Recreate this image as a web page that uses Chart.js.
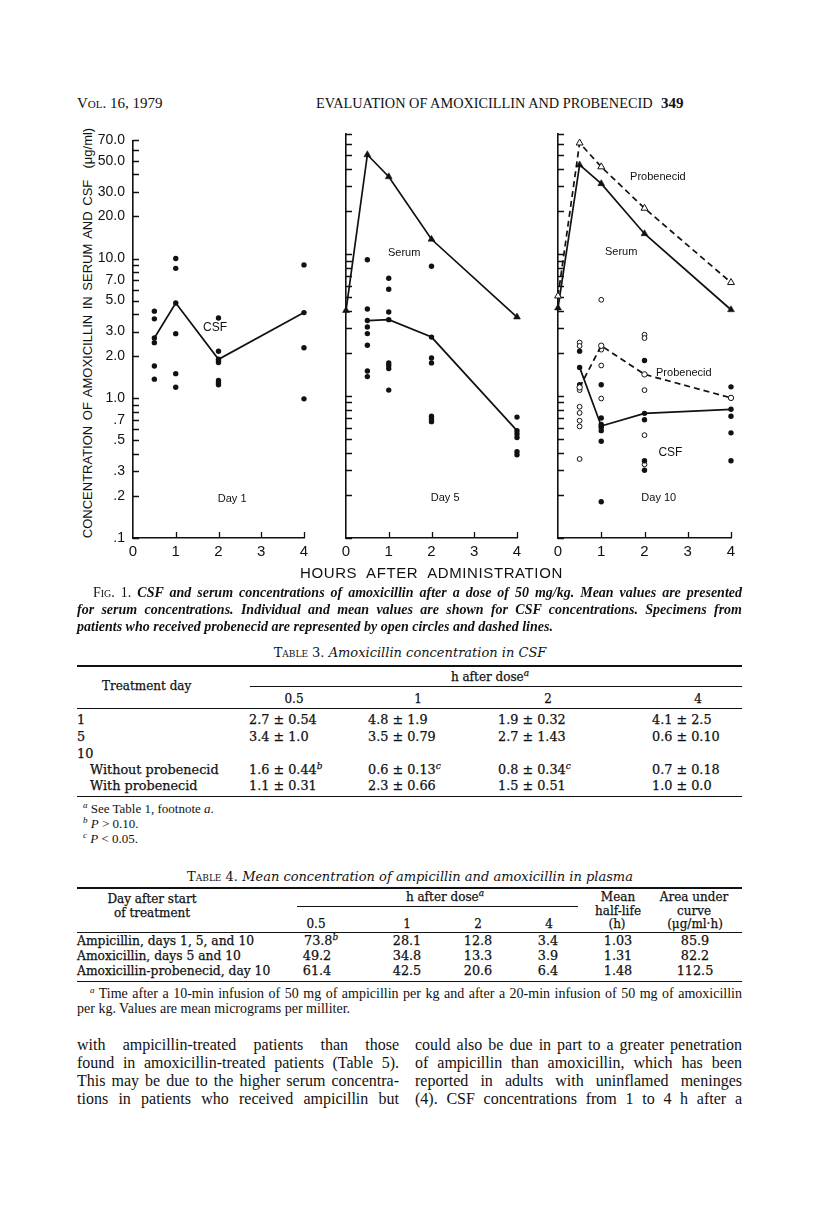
<!DOCTYPE html>
<html>
<head>
<meta charset="utf-8">
<script src="https://cdn.jsdelivr.net/npm/chart.js@4.4.1/dist/chart.umd.min.js"></script>
<style>
  html, body { margin: 0; padding: 0; background: #fff; }
  body { width: 816px; height: 1220px; position: relative; overflow: hidden; color: #111; font-family: "Liberation Serif", serif; }
  .t { position: absolute; white-space: nowrap; line-height: 16px; }
  .c { transform: translateX(-50%); }
  .sc { font-variant: small-caps; }
  .sup { font-size: 9px; position: relative; top: -5px; font-style: italic; }
  .rule { position: absolute; left: 77px; width: 665px; height: 1px; background: #111; }
  .tbl { font-family: "DejaVu Serif", serif; font-size: 12.8px; -webkit-text-stroke: 0.25px #111; }
  .hd { font-size: 12px; }
  .note { font-family: "Liberation Serif", serif; font-size: 12.5px; -webkit-text-stroke: 0; }
  .ttl { font-family: "DejaVu Serif", serif; font-size: 13px; }
  .line { position: absolute; text-align: justify; text-align-last: justify; line-height: 18px; }
  canvas { position: absolute; }
  .sans { font-family: "Liberation Sans", Arial, sans-serif; }
</style>
</head>
<body>

<!-- running head -->
<div class="t sc" style="left:77px; top:95px; font-size:15px;">Vol. 16, 1979</div>
<div class="t" style="left:316px; top:95px; font-size:14.3px;">EVALUATION OF AMOXICILLIN AND PROBENECID</div>
<div class="t" style="left:661px; top:95px; font-size:15px; font-weight:bold;">349</div>

<!-- figure -->
<div class="t sans" style="left:-119px; top:325px; width:414px; text-align:center; font-size:13px; word-spacing:2px; transform:rotate(-90deg);">CONCENTRATION OF AMOXICILLIN IN SERUM AND CSF&nbsp; (μg/ml)</div>
<canvas id="day1" width="220" height="444" style="left:95px; top:124px;"></canvas>
<canvas id="day5" width="200" height="444" style="left:330px; top:124px;"></canvas>
<canvas id="day10" width="205" height="444" style="left:542px; top:124px;"></canvas>
<div class="t sans" style="left:300px; top:565px; font-size:15px; letter-spacing:0.6px; word-spacing:5px;">HOURS AFTER ADMINISTRATION</div>

<!-- caption -->
<div style="position:absolute; left:77px; top:584px; width:665px; font-size:14px; font-weight:bold; font-style:italic;">
  <div class="line" style="top:0; left:16px; width:649px;"><span class="sc" style="font-style:normal; font-weight:normal;">Fig. 1.</span> CSF and serum concentrations of amoxicillin after a dose of 50 mg/kg. Mean values are presented</div>
  <div class="line" style="top:17px; left:0; width:665px;">for serum concentrations. Individual and mean values are shown for CSF concentrations. Specimens from</div>
  <div class="line" style="top:34px; left:0; width:665px; text-align:left; text-align-last:left;">patients who received probenecid are represented by open circles and dashed lines.</div>
</div>

<!-- table 3 -->
<div class="t c ttl" style="left:410px; top:645px;"><span class="sc">Table 3.</span> <i>Amoxicillin concentration in CSF</i></div>
<div class="rule" style="top:665px; height:1.6px;"></div>
<div class="tbl">
  <div class="t c hd" style="left:490px; top:669px;">h after dose<span class="sup">a</span></div>
  <div class="rule" style="top:686px; left:250px; width:492px;"></div>
  <div class="t hd" style="left:102px; top:678px;">Treatment day</div>
  <div class="t c hd" style="left:294px; top:691px;">0.5</div>
  <div class="t c hd" style="left:418px; top:691px;">1</div>
  <div class="t c hd" style="left:548px; top:691px;">2</div>
  <div class="t c hd" style="left:698px; top:691px;">4</div>
  <div class="rule" style="top:708px;"></div>

  <div class="t" style="left:77px; top:712px;">1</div>
  <div class="t" style="left:249px; top:712px;">2.7 ± 0.54</div>
  <div class="t" style="left:368px; top:712px;">4.8 ± 1.9</div>
  <div class="t" style="left:498px; top:712px;">1.9 ± 0.32</div>
  <div class="t" style="left:652px; top:712px;">4.1 ± 2.5</div>

  <div class="t" style="left:77px; top:729px;">5</div>
  <div class="t" style="left:249px; top:729px;">3.4 ± 1.0</div>
  <div class="t" style="left:368px; top:729px;">3.5 ± 0.79</div>
  <div class="t" style="left:498px; top:729px;">2.7 ± 1.43</div>
  <div class="t" style="left:652px; top:729px;">0.6 ± 0.10</div>

  <div class="t" style="left:77px; top:746px;">10</div>

  <div class="t" style="left:90px; top:762px;">Without probenecid</div>
  <div class="t" style="left:249px; top:762px;">1.6 ± 0.44<span class="sup">b</span></div>
  <div class="t" style="left:368px; top:762px;">0.6 ± 0.13<span class="sup">c</span></div>
  <div class="t" style="left:498px; top:762px;">0.8 ± 0.34<span class="sup">c</span></div>
  <div class="t" style="left:652px; top:762px;">0.7 ± 0.18</div>

  <div class="t" style="left:90px; top:778px;">With probenecid</div>
  <div class="t" style="left:249px; top:778px;">1.1 ± 0.31</div>
  <div class="t" style="left:368px; top:778px;">2.3 ± 0.66</div>
  <div class="t" style="left:498px; top:778px;">1.5 ± 0.51</div>
  <div class="t" style="left:652px; top:778px;">1.0 ± 0.0</div>
  <div class="rule" style="top:796px; height:1.4px;"></div>

  <div class="t note" style="left:83px; top:801px; font-size:13px;"><span class="sup">a</span> See Table 1, footnote <i>a</i>.</div>
  <div class="t note" style="left:83px; top:816px; font-size:13px;"><span class="sup">b</span> <i>P</i> &gt; 0.10.</div>
  <div class="t note" style="left:83px; top:831px; font-size:13px;"><span class="sup">c</span> <i>P</i> &lt; 0.05.</div>
</div>

<!-- table 4 -->
<div class="t c ttl" style="left:410px; top:869px;"><span class="sc">Table 4.</span> <i>Mean concentration of ampicillin and amoxicillin in plasma</i></div>
<div class="rule" style="top:887px; height:1.6px;"></div>
<div class="tbl">
  <div class="t c hd" style="left:152px; top:891px;">Day after start</div>
  <div class="t c hd" style="left:152px; top:905px;">of treatment</div>
  <div class="t c hd" style="left:445px; top:889px;">h after dose<span class="sup">a</span></div>
  <div class="rule" style="top:906px; left:297px; width:281px;"></div>
  <div class="t c hd" style="left:618px; top:889px;">Mean</div>
  <div class="t c hd" style="left:618px; top:903px;">half-life</div>
  <div class="t c hd" style="left:617px; top:916px;">(h)</div>
  <div class="t c hd" style="left:694px; top:889px;">Area under</div>
  <div class="t c hd" style="left:694px; top:903px;">curve</div>
  <div class="t c hd" style="left:695px; top:916px;">(μg/ml·h)</div>
  <div class="t c hd" style="left:316px; top:916px;">0.5</div>
  <div class="t c hd" style="left:407px; top:916px;">1</div>
  <div class="t c hd" style="left:478px; top:916px;">2</div>
  <div class="t c hd" style="left:549px; top:916px;">4</div>
  <div class="rule" style="top:932px;"></div>

  <div class="t" style="left:77px; top:933px; font-size:12.3px;">Ampicillin, days 1, 5, and 10</div>
  <div class="t" style="left:304px; top:933px;">73.8<span class="sup">b</span></div>
  <div class="t c" style="left:407px; top:933px;">28.1</div>
  <div class="t c" style="left:478px; top:933px;">12.8</div>
  <div class="t c" style="left:548px; top:933px;">3.4</div>
  <div class="t c" style="left:618px; top:933px;">1.03</div>
  <div class="t c" style="left:695px; top:933px;">85.9</div>

  <div class="t" style="left:77px; top:948px; font-size:12.3px;">Amoxicillin, days 5 and 10</div>
  <div class="t c" style="left:317px; top:948px;">49.2</div>
  <div class="t c" style="left:407px; top:948px;">34.8</div>
  <div class="t c" style="left:478px; top:948px;">13.3</div>
  <div class="t c" style="left:548px; top:948px;">3.9</div>
  <div class="t c" style="left:618px; top:948px;">1.31</div>
  <div class="t c" style="left:695px; top:948px;">82.2</div>

  <div class="t" style="left:77px; top:963px; font-size:12.3px;">Amoxicillin-probenecid, day 10</div>
  <div class="t c" style="left:317px; top:963px;">61.4</div>
  <div class="t c" style="left:407px; top:963px;">42.5</div>
  <div class="t c" style="left:478px; top:963px;">20.6</div>
  <div class="t c" style="left:548px; top:963px;">6.4</div>
  <div class="t c" style="left:618px; top:963px;">1.48</div>
  <div class="t c" style="left:695px; top:963px;">112.5</div>
  <div class="rule" style="top:981px; height:1.4px;"></div>

  <div class="line note" style="left:90px; top:985px; width:652px; font-size:14px;"><span class="sup">a</span> Time after a 10-min infusion of 50 mg of ampicillin per kg and after a 20-min infusion of 50 mg of amoxicillin</div>
  <div class="line note" style="left:77px; top:1000px; width:665px; font-size:14px; text-align:left; text-align-last:left;">per kg. Values are mean micrograms per milliter.</div>
</div>

<!-- body text -->
<div style="font-size:16px;">
  <div class="line" style="left:77px; top:1036px; width:322px;">with ampicillin-treated patients than those</div>
  <div class="line" style="left:77px; top:1054px; width:322px;">found in amoxicillin-treated patients (Table 5).</div>
  <div class="line" style="left:77px; top:1072px; width:322px;">This may be due to the higher serum concentra-</div>
  <div class="line" style="left:77px; top:1090px; width:322px;">tions in patients who received ampicillin but</div>
  <div class="line" style="left:415px; top:1036px; width:327px;">could also be due in part to a greater penetration</div>
  <div class="line" style="left:415px; top:1054px; width:327px;">of ampicillin than amoxicillin, which has been</div>
  <div class="line" style="left:415px; top:1072px; width:327px;">reported in adults with uninflamed meninges</div>
  <div class="line" style="left:415px; top:1090px; width:327px;">(4). CSF concentrations from 1 to 4 h after a</div>
</div>

<script>
// hours after administration
const serumHours = [0, 0.5, 1, 2, 4];
const meanHours = [0.5, 1, 2, 4];

// axis ticks
const xTickValues = [0, 1, 2, 3, 4];
const yTickValues = [0.1, 0.2, 0.3, 0.4, 0.5, 0.6, 0.7, 0.8, 0.9,
    1, 2, 3, 4, 5, 6, 7, 8, 9, 10, 20, 30, 40, 50, 60, 70];
const yLabelValues = [70, 50, 30, 20, 10, 7, 5, 3, 2, 1, 0.7, 0.5, 0.3, 0.2, 0.1];
const yLabelTexts = ['70.0', '50.0', '30.0', '20.0', '10.0', '7.0', '5.0', '3.0', '2.0', '1.0', '.7', '.5', '.3', '.2', '.1'];

// day 1: CSF (µg/ml)
const day1CsfMean = [2.7, 4.8, 1.9, 4.1];
const day1CsfPatients = [
    [0.5, 4.2], [0.5, 3.7], [0.5, 2.5], [0.5, 1.7], [0.5, 1.37],
    [1, 10.0], [1, 8.5], [1, 2.9], [1, 1.5], [1, 1.2],
    [2, 3.75], [2, 2.17], [2, 1.85], [2, 1.8], [2, 1.34], [2, 1.29], [2, 1.25],
    [4, 9.0], [4, 2.3], [4, 0.99],
];

// day 5
const day5Serum = [4.0, 50, 35, 12.7, 3.6];
const day5CsfMean = [3.4, 3.45, 2.6, 0.57];
const day5CsfPatients = [
    [0.5, 9.1], [0.5, 4.1], [0.5, 3.06], [0.5, 2.75], [0.5, 2.28], [0.5, 1.5], [0.5, 1.37],
    [1, 6.75], [1, 5.65], [1, 3.9], [1, 1.71], [1, 1.64], [1, 1.56], [1, 1.1],
    [2, 8.2], [2, 1.85], [2, 1.71], [2, 0.72], [2, 0.69], [2, 0.66],
    [4, 0.71], [4, 0.54], [4, 0.51], [4, 0.405], [4, 0.385],
];

// day 10, without and with probenecid
const day10Serum = [4.17, 42.4, 31.3, 13.9, 4.05];
const day10SerumProbenecid = [5.06, 60.5, 41.1, 21.0, 6.3];
const day10CsfMean = [1.59, 0.615, 0.755, 0.806];
const day10CsfMeanProbenecid = [1.15, 2.26, 1.42, 0.97];
const day10CsfPatients = [
    [0.5, 2.07], [0.5, 1.2],
    [1, 1.2], [1, 0.7], [1, 0.63], [1, 0.6], [1, 0.57], [1, 0.48], [1, 0.18],
    [2, 1.78], [2, 0.68], [2, 0.35], [2, 0.3],
    [4, 1.16], [4, 0.72], [4, 0.55], [4, 0.35],
];
const day10CsfPatientsProbenecid = [
    [0.5, 2.38], [0.5, 2.25], [0.5, 1.1], [0.5, 0.84], [0.5, 0.76], [0.5, 0.67], [0.5, 0.61], [0.5, 0.36],
    [1, 4.76], [1, 2.12], [1, 1.64], [1, 0.96],
    [2, 2.7], [2, 2.56], [2, 1.1], [2, 0.53], [2, 0.33],
];

const INK = '#111';

function zip(xs, ys) {
    return xs.map((x, i) => ({ x, y: ys[i] }));
}

function points(list) {
    return list.map(([x, y]) => ({ x, y }));
}

function meanLine(data, dashed, open) {
    return {
        data,
        borderColor: INK,
        borderWidth: 1.7,
        borderDash: dashed ? [6, 4] : [],
        pointRadius: 2.7,
        pointBackgroundColor: open ? '#fff' : INK,
        pointBorderColor: INK,
        pointBorderWidth: open ? 1 : 0,
        tension: 0,
        clip: false,
    };
}

function serumLine(data, dashed) {
    return {
        ...meanLine(data, dashed, dashed),
        pointStyle: 'triangle',
        pointRadius: 4,
        pointBorderWidth: dashed ? 1 : 0.5,
    };
}

function dots(data, open) {
    return {
        data,
        showLine: false,
        pointRadius: open ? 2.4 : 2.7,
        pointBackgroundColor: open ? '#fff' : INK,
        pointBorderColor: INK,
        pointBorderWidth: open ? 1 : 0,
        clip: false,
    };
}

// ticks point inward, as on the printed figure; notes sit at data positions
const paperAxes = {
    id: 'paperAxes',
    beforeDatasetsDraw(chart, args, opts) {
        const { ctx, scales: { x, y } } = chart;
        ctx.save();
        ctx.strokeStyle = INK;
        ctx.lineWidth = 1.3;
        ctx.beginPath();
        y.ticks.forEach((t) => {
            const py = Math.round(y.getPixelForValue(t.value)) + 0.5;
            ctx.moveTo(x.left, py);
            ctx.lineTo(x.left + 6, py);
        });
        x.ticks.forEach((t) => {
            if (t.value === 0) return;
            const px = Math.round(x.getPixelForValue(t.value)) + 0.5;
            ctx.moveTo(px, y.bottom);
            ctx.lineTo(px, y.bottom - 6);
        });
        ctx.stroke();

        ctx.fillStyle = INK;
        ctx.textAlign = 'center';
        ctx.textBaseline = 'middle';
        (opts.notes || []).forEach(([text, hour, value, size]) => {
            ctx.font = `${size || 11}px "Liberation Sans", Arial, sans-serif`;
            ctx.fillText(text, x.getPixelForValue(hour), y.getPixelForValue(value));
        });
        ctx.restore();
    },
};

function panel(id, datasets, notes, yWidth, padRight, showYLabels) {
    return new Chart(document.getElementById(id), {
        type: 'line',
        data: { datasets },
        options: {
            responsive: false,
            animation: false,
            devicePixelRatio: 1,
            events: [],
            layout: { padding: { top: 10, right: padRight, left: 0, bottom: 0 } },
            plugins: {
                legend: { display: false },
                tooltip: { enabled: false },
                paperAxes: { notes },
            },
            scales: {
                x: {
                    type: 'linear',
                    min: 0,
                    max: 4,
                    afterBuildTicks: (s) => { s.ticks = xTickValues.map((v) => ({ value: v })); },
                    afterFit: (s) => { s.height = 30; },
                    grid: { display: false, drawTicks: false },
                    border: { display: true, color: INK, width: 1.6 },
                    ticks: {
                        autoSkip: false,
                        maxRotation: 0,
                        padding: 5,
                        color: INK,
                        font: { family: 'Liberation Sans', size: 15 },
                        callback: (v) => String(v),
                    },
                },
                y: {
                    type: 'logarithmic',
                    min: 0.1,
                    max: 70,
                    afterBuildTicks: (s) => { s.ticks = yTickValues.map((v) => ({ value: v })); },
                    afterFit: (s) => { s.width = yWidth; },
                    grid: { display: false, drawTicks: false },
                    border: { display: true, color: INK, width: 1.6 },
                    ticks: {
                        display: showYLabels,
                        autoSkip: false,
                        padding: 8,
                        color: INK,
                        font: { family: 'Liberation Sans', size: 14 },
                        callback: (v) => {
                            const i = yLabelValues.indexOf(v);
                            return i < 0 ? '' : yLabelTexts[i];
                        },
                    },
                },
            },
        },
        plugins: [paperAxes],
    });
}

panel('day1', [
    meanLine(zip(meanHours, day1CsfMean), false, false),
    dots(points(day1CsfPatients), false),
], [['CSF', 1.92, 3.2, 12], ['Day 1', 2.32, 0.19, 11]], 38, 11, true);

panel('day5', [
    serumLine(zip(serumHours, day5Serum), false),
    meanLine(zip(meanHours, day5CsfMean), false, false),
    dots(points(day5CsfPatients), false),
], [['Serum', 1.36, 10.2, 11], ['Day 5', 2.32, 0.19, 11]], 16, 13, false);

panel('day10', [
    serumLine(zip(serumHours, day10SerumProbenecid), true),
    serumLine(zip(serumHours, day10Serum), false),
    meanLine(zip(meanHours, day10CsfMeanProbenecid), true, true),
    meanLine(zip(meanHours, day10CsfMean), false, false),
    dots(points(day10CsfPatients), false),
    dots(points(day10CsfPatientsProbenecid), true),
], [['Probenecid', 2.31, 34.6, 11], ['Serum', 1.46, 10.3, 11], ['Probenecid', 2.91, 1.45, 11],
    ['CSF', 2.6, 0.4, 12], ['Day 10', 2.33, 0.19, 11]], 16, 16, false);
</script>
</body>
</html>
